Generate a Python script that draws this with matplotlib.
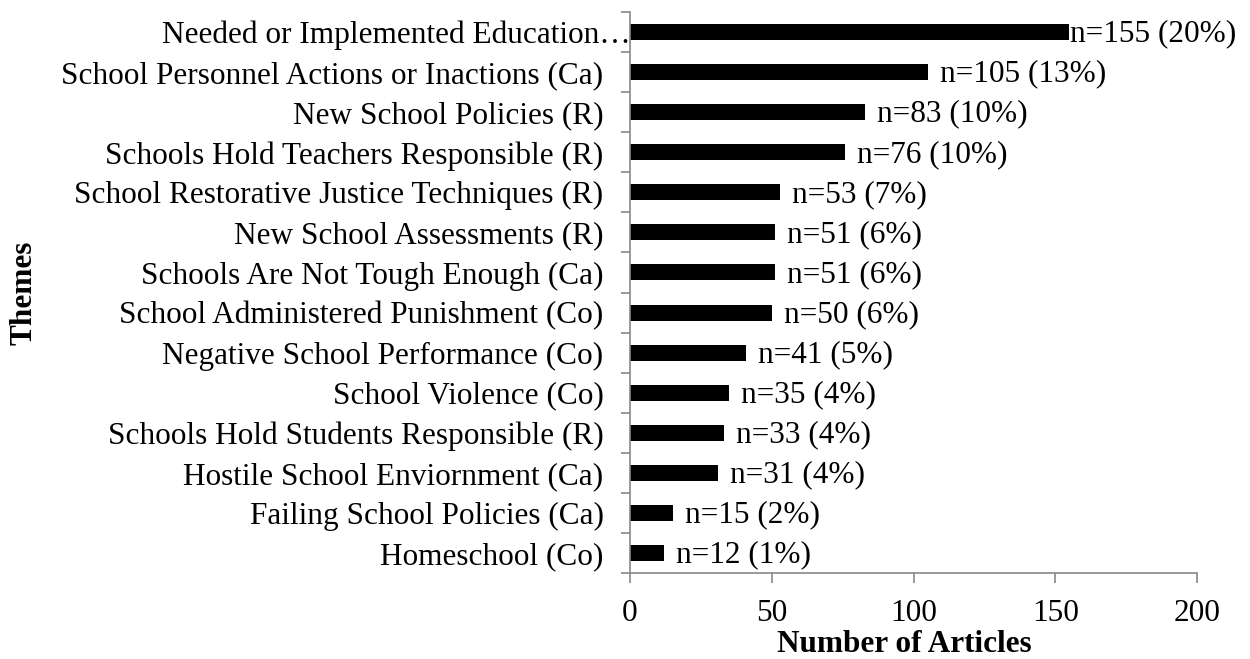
import matplotlib
matplotlib.use("Agg")
import matplotlib.pyplot as plt
import matplotlib.transforms as mtransforms
import numpy as np

themes = [
    "Needed or Implemented Education\u2026",
    "School Personnel Actions or Inactions (Ca)",
    "New School Policies (R)",
    "Schools Hold Teachers Responsible (R)",
    "School Restorative Justice Techniques (R)",
    "New School Assessments (R)",
    "Schools Are Not Tough Enough (Ca)",
    "School Administered Punishment (Co)",
    "Negative School Performance (Co)",
    "School Violence (Co)",
    "Schools Hold Students Responsible (R)",
    "Hostile School Enviornment (Ca)",
    "Failing School Policies (Ca)",
    "Homeschool (Co)",
]
counts = [155, 105, 83, 76, 53, 51, 51, 50, 41, 35, 33, 31, 15, 12]
percents = [20, 13, 10, 10, 7, 6, 6, 6, 5, 4, 4, 4, 2, 1]
xticks = [0, 50, 100, 150, 200]

plt.rcParams['font.family'] = ['Liberation Serif', 'DejaVu Serif']
fs = 22.5

fig = plt.figure(figsize=(12.5, 6.59), dpi=100)
ax = fig.add_axes([630/1250, 1-573/659, (1197-630)/1250, (573-12)/659])

n = len(themes)
ypos = np.arange(n)[::-1]
ax.barh(ypos, counts, height=0.4, color='black')
ax.set_ylim(-0.5, n-0.5)
ax.set_xlim(0, 200)

for i, (c, p) in enumerate(zip(counts, percents)):
    off = 1 if c >= 150 else 12
    ax.annotate(f"n={c} ({p}%)", (c, ypos[i]), xytext=(off, -2), textcoords='offset pixels',
                va='center', ha='left', fontsize=fs)

ax.set_yticks(ypos)
ax.set_yticklabels(themes, fontsize=fs)
ax.tick_params(axis='y', which='major', length=0, pad=19)
ax.set_yticks(np.arange(-0.5, n, 1.0), minor=True)
ax.tick_params(axis='y', which='minor', length=6.5, color='#888888', width=1.2, direction='out')

# first (truncated) label extends up to the axis line
lbl0 = ax.get_yticklabels()[0]
lbl0.set_transform(lbl0.get_transform() + mtransforms.ScaledTranslation(27/100, 0, fig.dpi_scale_trans))

ax.set_xticks(xticks)
ax.set_xticklabels([str(t) for t in xticks], fontsize=fs)
ax.tick_params(axis='x', which='major', length=7, color='#888888', width=1.2, pad=12, direction='out')

for s in ['top', 'right']:
    ax.spines[s].set_visible(False)
for s in ['left', 'bottom']:
    ax.spines[s].set_color('#888888')
    ax.spines[s].set_linewidth(1.2)

fig.text(904/1250, 1-652/659, "Number of Articles", fontsize=fs, fontweight='bold',
         ha='center', va='baseline')
fig.text(24/1250, 1-293/659, "Themes", rotation=90, fontsize=fs, fontweight='bold',
         ha='center', va='center')

fig.savefig("out.png", dpi=100)
